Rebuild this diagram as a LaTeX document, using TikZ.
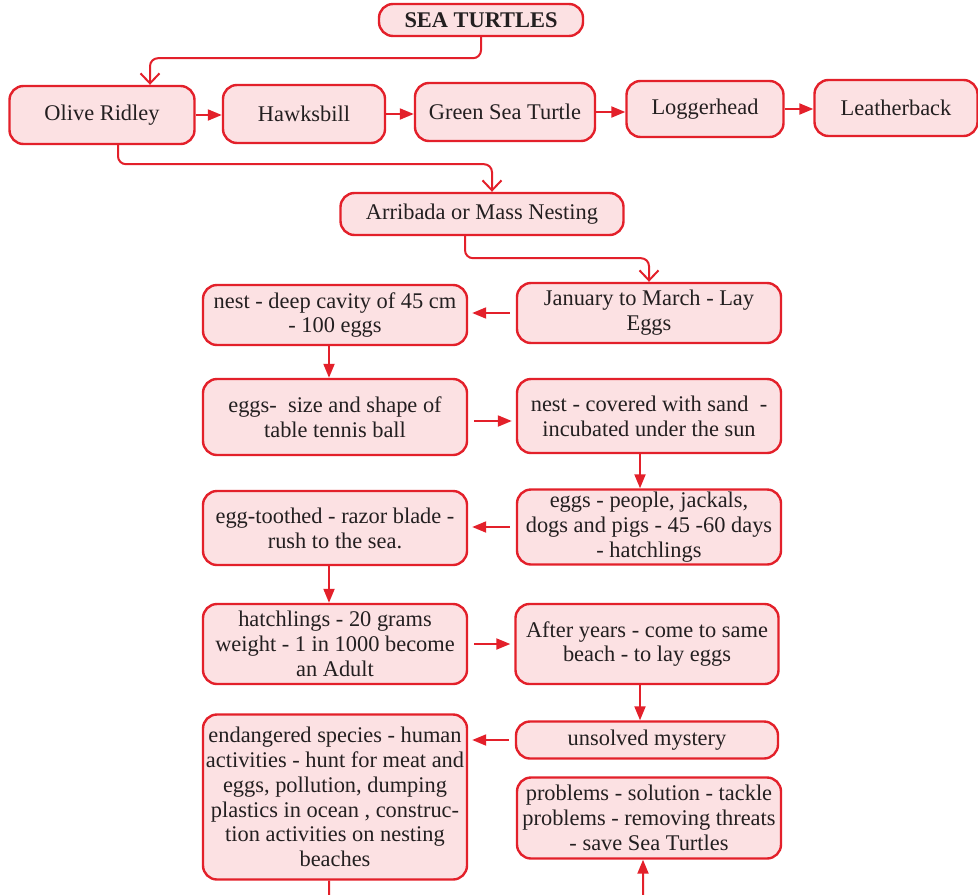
\documentclass[tikz,border=0pt]{standalone}
\usepackage{fontspec}
\setmainfont{Liberation Serif}
\usetikzlibrary{arrows.meta,positioning}

\definecolor{tred}{HTML}{E3202A}
\definecolor{tpink}{HTML}{FCE1E3}
\definecolor{tink}{HTML}{231F20}

\begin{document}
\begin{tikzpicture}[
          x=0.5pt, y=-0.5pt,
          box/.style={draw=tred, fill=tpink, line width=1.2pt, rounded corners=7pt,
                      align=center, text=tink, inner xsep=1pt, inner ysep=1pt,
                      font=\fontsize{11.2}{12.4}\selectfont},
          sp/.style={box, minimum height=29pt},
          col/.style={box, minimum width=132pt},
          arr/.style={draw=tred, line width=1pt, -{Triangle[length=7pt,width=5.5pt]}},
          gaparr/.style={arr, shorten >=2pt, shorten <=3pt},
          elbow/.style={draw=tred, line width=1pt, rounded corners=4pt,
                        -{Straight Barb[length=5pt,width=9.5pt,line width=1pt]}}
        ]
        \useasboundingbox (0,0) rectangle (978,894);

        % title and the five species
        \node[box, minimum width=102pt, minimum height=16pt,
              font=\fontsize{11.2}{12.4}\selectfont\bfseries] (title) at (481,20) {SEA TURTLES};
        \node[sp, minimum width=92.5pt] (olive)   at (102,115) {Olive Ridley};
        \node[sp, minimum width=81pt]   (hawk)    at (304,114) {Hawksbill};
        \node[sp, minimum width=90pt]   (green)   at (505,112) {Green Sea Turtle};
        \node[sp, minimum width=78.5pt, minimum height=28pt] (logger)  at (705,109) {Loggerhead};
        \node[sp, minimum width=81.5pt, minimum height=28pt] (leather) at (896,108) {Leatherback};

        \node[box, minimum width=141.5pt, minimum height=21pt] (arribada) at (482,214)
            {Arribada or Mass Nesting};

        % nesting cycle, two columns
        \node[col, minimum height=30pt] (jan)      at (649,313) {January to March - Lay\\Eggs};
        \node[col, minimum height=30pt] (nestdeep) at (335,315) {nest - deep cavity of 45 cm\\- 100 eggs};
        \node[col, minimum height=38pt] (eggsize)  at (335,417) {eggs-\ \ size and shape of\\table tennis ball};
        \node[col, minimum height=37pt] (nestcov)  at (649,416) {nest - covered with sand\ \ -\\incubated under the sun};
        \node[col, minimum height=37.5pt] (eggpeople) at (649,527)
            {eggs - people, jackals,\\dogs and pigs - 45 -60 days\\- hatchlings};
        \node[col, minimum height=37pt] (eggtooth) at (335,528) {egg-toothed - razor blade -\\rush to the sea.};
        \node[col, minimum height=40pt] (hatch)    at (335,644)
            {hatchlings - 20 grams\\weight - 1 in 1000 become\\an Adult};
        \node[col, minimum width=131.5pt, minimum height=40pt] (after) at (647,644)
            {After years - come to same\\beach - to lay eggs};
        \node[col, minimum width=131pt, minimum height=18.5pt] (mystery) at (647,740) {unsolved mystery};
        \node[col, minimum height=82.5pt] (endanger) at (335,797)
            {endangered species - human\\activities - hunt for meat and\\eggs, pollution, dumping\\plastics in ocean , construc-\\tion activities on nesting\\beaches};
        \node[col, minimum height=40.5pt] (problems) at (649,818)
            {problems - solution - tackle\\problems - removing threats\\- save Sea Turtles};

        % elbow connectors
        \draw[elbow] (title.south) -- ++(0,21) -| ([xshift=24pt]olive.north);
        \draw[elbow] ([xshift=8pt]olive.south) -- ++(0,19) -| ([xshift=5pt]arribada.north);
        \draw[elbow] ([xshift=-8.5pt]arribada.south) -- ++(0,22) -| (jan.north);

        % species row
        \draw[arr] (olive.east) -- (olive.east -| hawk.west);
        \draw[arr] (hawk.east) -- (hawk.east -| green.west);
        \draw[arr] (green.east) -- (green.east -| logger.west);
        \draw[arr] (logger.east) -- (logger.east -| leather.west);

        % cycle
        \draw[gaparr] (jan.west) -- (jan.west -| nestdeep.east);
        \draw[arr] ([xshift=-3pt]nestdeep.south) -- ([xshift=-3pt]eggsize.north);
        \draw[gaparr] ([yshift=-2pt]eggsize.east) -- ([yshift=-2pt]eggsize.east -| nestcov.west);
        \draw[arr] ([xshift=-4.5pt]nestcov.south) -- ([xshift=-4.5pt]eggpeople.north);
        \draw[gaparr] (eggpeople.west) -- (eggpeople.west -| eggtooth.east);
        \draw[arr] ([xshift=-3pt]eggtooth.south) -- ([xshift=-3pt]hatch.north);
        \draw[gaparr] (hatch.east) -- (hatch.east -| after.west);
        \draw[arr] ([xshift=-3.5pt]after.south) -- ([xshift=-3.5pt]mystery.north);
        \draw[gaparr] (mystery.west) -- (mystery.west -| endanger.east);
        \draw[arr, rounded corners=4pt] ([xshift=-3pt]endanger.south) -- ++(0,30)
            -| ([xshift=-3pt]problems.south);
      \end{tikzpicture}
\end{document}
